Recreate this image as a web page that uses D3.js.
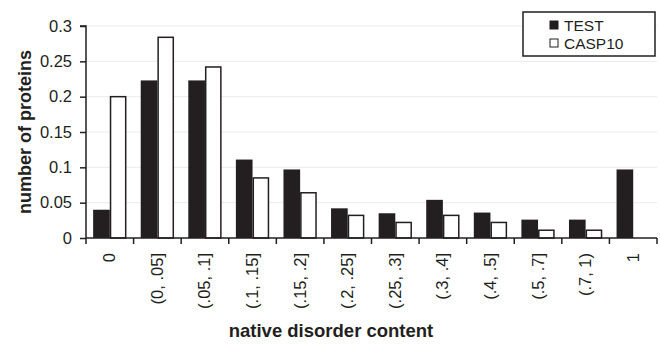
<!DOCTYPE html>
<html>
<head>
<meta charset="utf-8">
<script src="https://cdn.jsdelivr.net/npm/d3@7"></script>
<style>
  body { margin: 0; background: #fff; }
  text { font-family: "Liberation Sans", Arial, sans-serif; fill: #231f20; }
</style>
</head>
<body>
<svg id="chart"></svg>
<script>
// categories along the x axis
var categories = ["0", "(0, .05]", "(.05, .1]", "(.1, .15]", "(.15, .2]", "(.2, .25]",
                  "(.25, .3]", "(.3, .4]", "(.4, .5]", "(.5, .7]", "(.7, 1)", "1"];
var seriesNames = ["TEST", "CASP10"];
var testValues = [0.040, 0.223, 0.223, 0.111, 0.097, 0.042, 0.035, 0.054, 0.036, 0.026, 0.026, 0.097];
var caspValues = [0.200, 0.284, 0.242, 0.085, 0.064, 0.032, 0.022, 0.032, 0.022, 0.011, 0.011, 0];
var yTicks = [0, 0.05, 0.1, 0.15, 0.2, 0.25, 0.3];

var W = 660, H = 344;
var margin = { top: 26, right: 3, bottom: 106, left: 86 };
var width = W - margin.left - margin.right;
var height = H - margin.top - margin.bottom;

var svg = d3.select("#chart").attr("width", W).attr("height", H);
var g = svg.append("g").attr("transform", "translate(" + margin.left + "," + margin.top + ")");

var x = d3.scaleBand().domain(categories).range([0, width]).paddingInner(0.3).paddingOuter(0.15);
var x1 = d3.scaleBand().domain(seriesNames).range([0, x.bandwidth()]);
var y = d3.scaleLinear().domain([0, 0.3]).range([height, 0]);

// gridlines
g.selectAll(".grid").data(yTicks.slice(1)).enter().append("line")
  .attr("x1", 0).attr("x2", width)
  .attr("y1", d => y(d)).attr("y2", d => y(d))
  .attr("stroke", "#ebebeb").attr("stroke-width", 1);

var rows = categories.map((c, i) => ({ cat: c, TEST: testValues[i], CASP10: caspValues[i] }));

var groups = g.selectAll(".grp").data(rows).enter().append("g")
  .attr("transform", d => "translate(" + x(d.cat) + ",0)");

groups.selectAll("rect")
  .data(d => seriesNames.map(s => ({ s: s, v: d[s] })).filter(e => e.v > 0))
  .enter().append("rect")
  .attr("x", d => x1(d.s) + (d.s === "CASP10" ? 0.75 : 0))
  .attr("y", d => y(d.v))
  .attr("width", d => x1.bandwidth() - (d.s === "CASP10" ? 1.5 : 0))
  .attr("height", d => height - y(d.v))
  .attr("fill", d => d.s === "TEST" ? "#231f20" : "#fff")
  .attr("stroke", d => d.s === "TEST" ? "none" : "#231f20")
  .attr("stroke-width", 1.5);

// y axis
var yAxis = g.append("g")
  .call(d3.axisLeft(y).tickValues(yTicks).tickSize(6).tickPadding(8).tickFormat(d => d3.format("")(+d.toFixed(2))));
yAxis.selectAll("text").style("font-size", "16.5px");
yAxis.selectAll("line, path").attr("stroke", "#231f20").attr("stroke-width", 1.5);
yAxis.select("path").attr("d", "M-6," + y(0.3) + "H0V" + height);

// x axis with ticks at band boundaries
var xAxisG = g.append("g").attr("transform", "translate(0," + height + ")");
xAxisG.append("line").attr("x1", 0).attr("x2", width).attr("stroke", "#231f20").attr("stroke-width", 1.5);
var step = x.step();
var bounds = d3.range(categories.length + 1).map(i => x(categories[0]) - x.paddingOuter() * step + i * step);
xAxisG.selectAll(".tk").data(bounds).enter().append("line")
  .attr("x1", d => d).attr("x2", d => d).attr("y1", 0).attr("y2", 6)
  .attr("stroke", "#231f20").attr("stroke-width", 1.5);
xAxisG.selectAll(".lbl").data(categories).enter().append("text")
  .attr("transform", d => "translate(" + (x(d) + x.bandwidth() / 2 + 5.5) + ",15) rotate(-90)")
  .attr("text-anchor", "end")
  .style("font-size", "16.5px")
  .text(d => d);

// axis titles
svg.append("text")
  .attr("transform", "translate(31," + (margin.top + height / 2) + ") rotate(-90)")
  .attr("text-anchor", "middle")
  .style("font-size", "18px").style("font-weight", "bold")
  .text("number of proteins");

svg.append("text")
  .attr("x", 331).attr("y", 337)
  .attr("text-anchor", "middle")
  .style("font-size", "18.5px").style("font-weight", "bold")
  .text("native disorder content");

// legend
var legend = svg.append("g").attr("transform", "translate(523,12)");
legend.append("rect").attr("width", 132).attr("height", 44)
  .attr("fill", "#fff").attr("stroke", "#231f20").attr("stroke-width", 1.5);
seriesNames.forEach(function (s, i) {
  var ly = 13 + i * 18;
  legend.append("rect").attr("x", 27).attr("y", ly - 4).attr("width", 8).attr("height", 8)
    .attr("fill", s === "TEST" ? "#231f20" : "#fff")
    .attr("stroke", "#231f20").attr("stroke-width", 1);
  legend.append("text").attr("x", 41).attr("y", ly + 5.5)
    .style("font-size", "15.5px").text(s);
});
</script>
</body>
</html>
